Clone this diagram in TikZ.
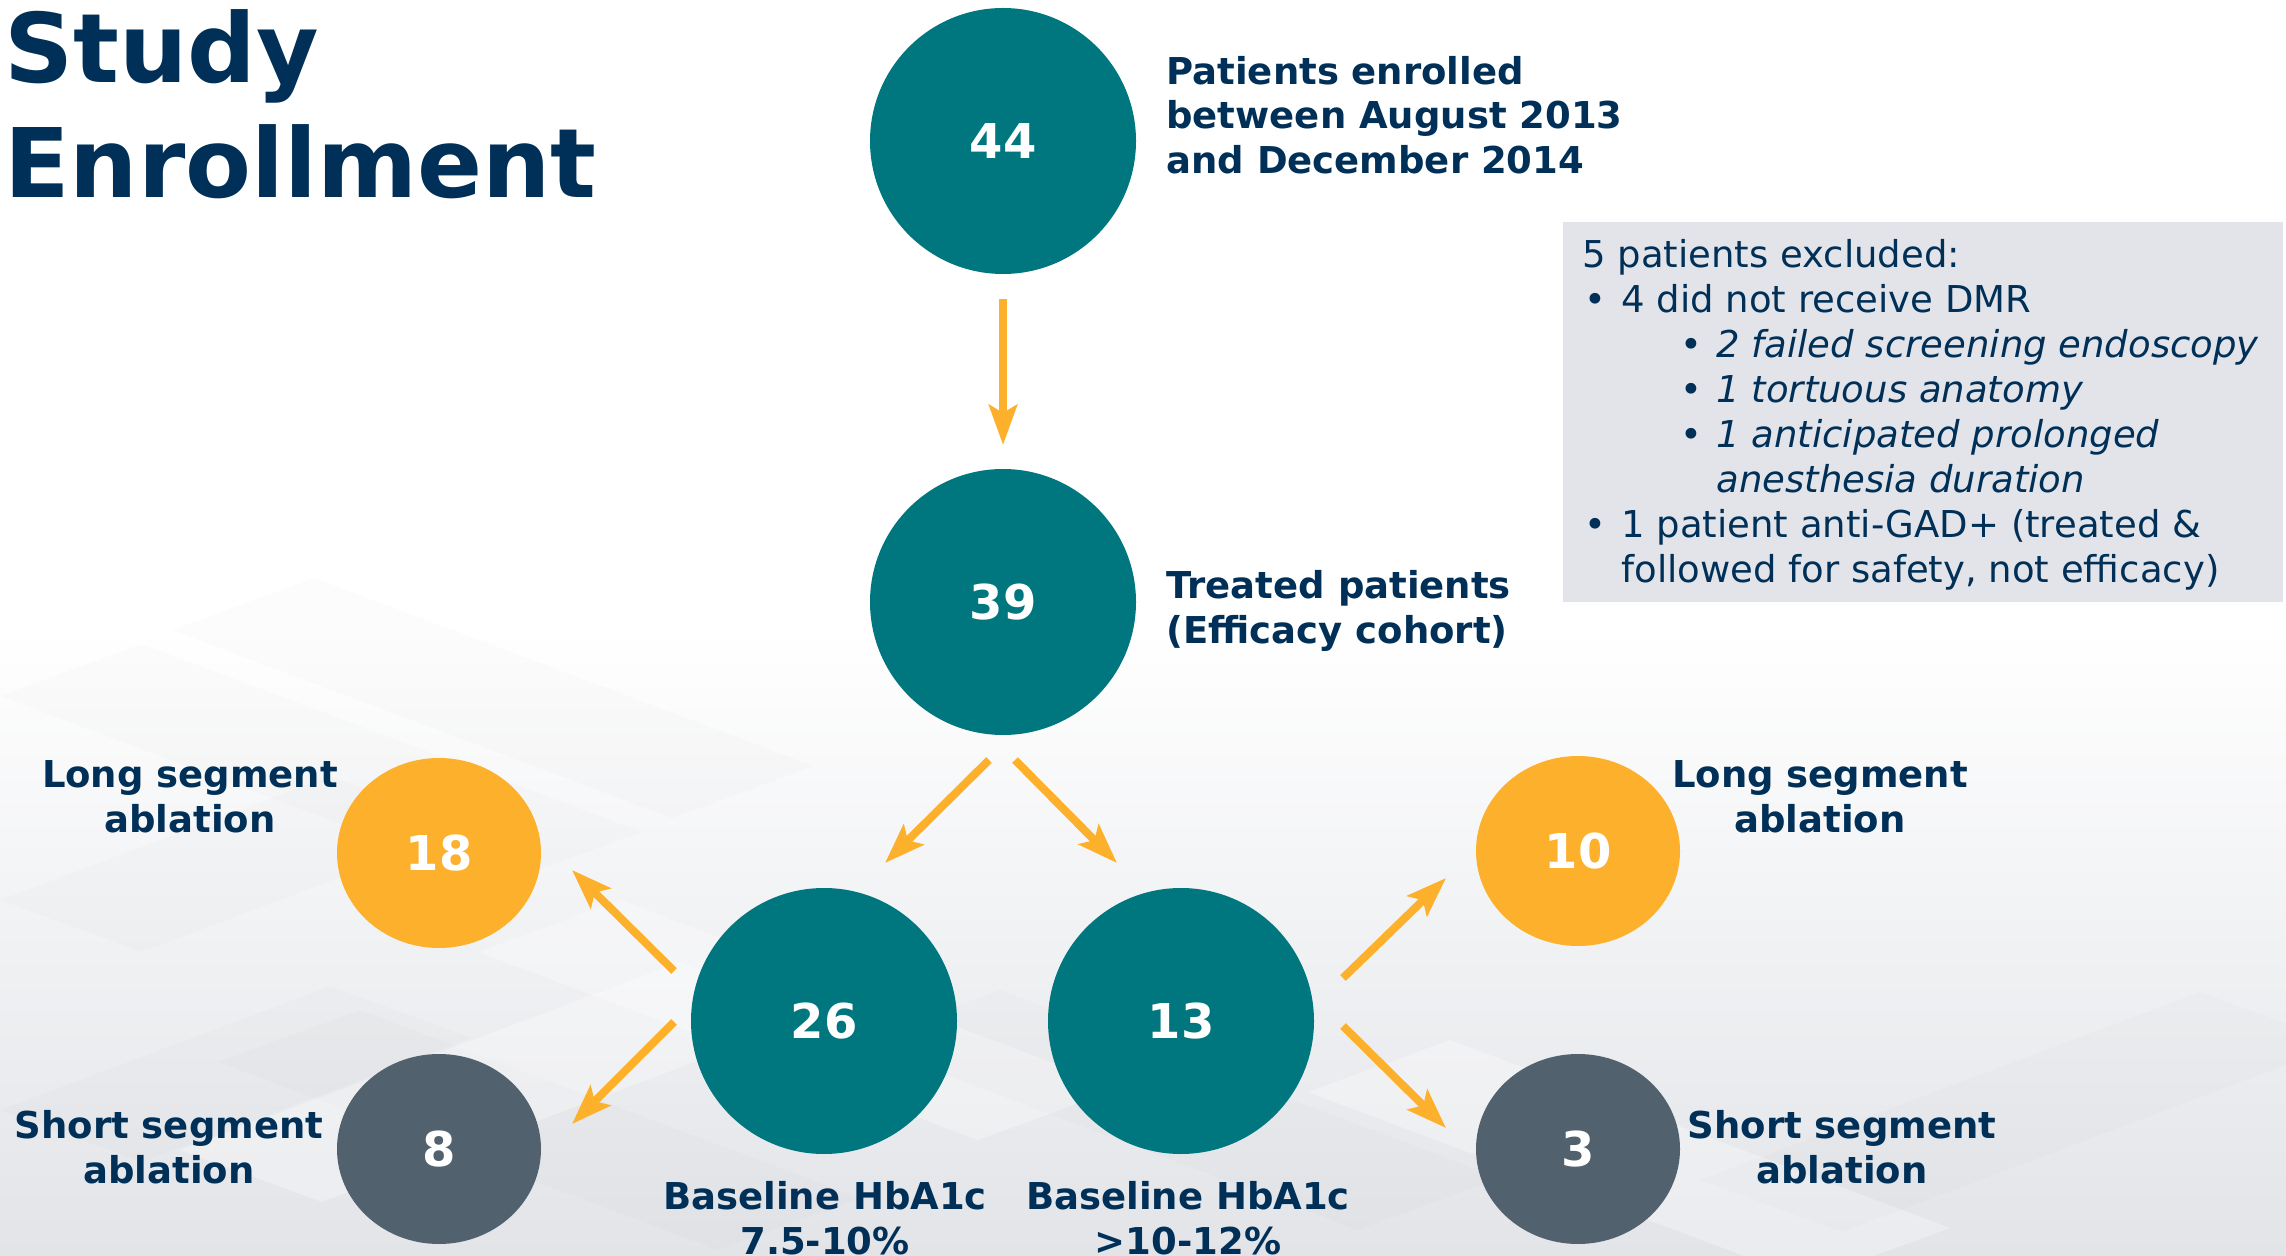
\documentclass[tikz,border=0pt]{standalone}
\usepackage{fontspec}
\setmainfont{DejaVu Sans}
\usetikzlibrary{shapes.geometric,arrows.meta,calc}

\definecolor{navy}{RGB}{0,48,87}
\definecolor{cteal}{RGB}{0,119,127}
\definecolor{amber}{RGB}{253,176,43}
\definecolor{slate}{RGB}{82,97,110}
\definecolor{boxgray}{RGB}{227,228,233}
\definecolor{bgbottom}{RGB}{226,228,232}

\tikzset{
  bigdot/.style={circle, fill=cteal, minimum size=133pt, inner sep=0pt,
    text=white, font=\fontsize{24}{24}\selectfont\bfseries},
  armdot/.style={ellipse, minimum width=102pt, minimum height=95pt, inner sep=0pt,
    text=white, font=\fontsize{24}{24}\selectfont\bfseries},
  lbl/.style={text=navy, align=center, inner sep=0pt,
    font=\fontsize{18.5}{22.25}\selectfont\bfseries},
  flow/.style={draw=amber, line width=4pt,
    -{Stealth[length=20pt,width=14pt,inset=4pt]}},
  facet/.style={fill=black, opacity=0.012},
  glint/.style={fill=white, opacity=0.3}
}

\begin{document}
\begin{tikzpicture}[x=0.5pt,y=-0.5pt]
  \useasboundingbox (0,0) rectangle (2286,1256);

  % background: white fading to light grey, with faint facets
  \shade[top color=white, bottom color=bgbottom, middle color=white]
    (0,0) rectangle (2286,1256);
  \fill[facet] (314,578) -- ++(500,188) -- ++(-142,52) -- ++(-500,-188) -- cycle;
  \fill[facet] (142,644) -- ++(500,188) -- ++(-142,52) -- ++(-500,-188) -- cycle;
  \fill[facet] (0,900) -- ++(330,-124) -- ++(142,52) -- ++(-330,124) -- cycle;
  \fill[glint] (620,900) -- ++(500,188) -- ++(-142,52) -- ++(-500,-188) -- cycle;
  \fill[facet] (360,1010) -- ++(500,188) -- ++(-142,52) -- ++(-500,-188) -- cycle;
  \fill[facet] (0,1110) -- ++(330,-124) -- ++(142,52) -- ++(-330,124) -- cycle;
  \fill[glint] (180,1150) -- ++(500,-188) -- ++(142,52) -- ++(-500,188) -- cycle;
  \fill[facet] (1000,990) -- ++(500,188) -- ++(-142,52) -- ++(-500,-188) -- cycle;
  \fill[glint] (1450,1040) -- ++(500,188) -- ++(-142,52) -- ++(-500,-188) -- cycle;
  \fill[facet] (1700,1180) -- ++(500,-188) -- ++(142,52) -- ++(-500,188) -- cycle;

  % title
  \node[text=navy, anchor=north west, align=left, inner sep=0pt,
        font=\fontsize{48}{57.5}\selectfont\bfseries] (title) at (4,9) {Study\\Enrollment};

  % main chain
  \node[bigdot] (n44) at (1003,141) {44};
  \node[bigdot] (n39) at (1003,602) {39};
  \node[bigdot] (n26) at (824,1021) {26};
  \node[bigdot] (n13) at (1181,1021) {13};

  % ablation arms
  \node[armdot, fill=amber] (n18) at (439,853) {18};
  \node[armdot, fill=slate] (n8) at (439,1149) {8};
  \node[armdot, fill=amber] (n10) at (1578,851) {10};
  \node[armdot, fill=slate] (n3) at (1578,1149) {3};

  % labels
  \node[lbl, anchor=west, align=left] (enrolled) at (1166,115)
    {Patients enrolled\\between August 2013\\and December 2014};
  \node[lbl, anchor=west, align=left] (treated) at (1166,611)
    {Treated patients\\(Efficacy cohort)};
  \node[lbl] (longL) at (190,797) {Long segment\\ablation};
  \node[lbl] (shortL) at (169,1147) {Short segment\\ablation};
  \node[lbl] (longR) at (1820,797) {Long segment\\ablation};
  \node[lbl] (shortR) at (1842,1147) {Short segment\\ablation};
  \node[lbl] (lowA) at (825,1218) {Baseline HbA1c\\7.5-10\%};
  \node[lbl] (highA) at (1188,1218) {Baseline HbA1c\\>10-12\%};

  % exclusions
  \fill[boxgray] (1563,222) rectangle (2283,602);
  \node[text=navy, anchor=north west, align=left, inner sep=0pt,
        font=\fontsize{18.5}{22.5}\selectfont] (excluded) at (1582,239)
    {5 patients excluded:\\
     \hspace*{1pt}\makebox[18.5pt][l]{\textbullet}4 did not receive DMR\\
     \hspace*{49pt}\makebox[18pt][l]{\textbullet}\textit{2 failed screening endoscopy}\\
     \hspace*{49pt}\makebox[18pt][l]{\textbullet}\textit{1 tortuous anatomy}\\
     \hspace*{49pt}\makebox[18pt][l]{\textbullet}\textit{1 anticipated prolonged}\\
     \hspace*{67pt}\textit{anesthesia duration}\\
     \hspace*{1pt}\makebox[18.5pt][l]{\textbullet}1 patient anti-GAD+ (treated \&\\
     \hspace*{19.5pt}followed for safety, not efficacy)};

  % arrows
  \draw[flow] ($(n44)+(0,158)$) -- ($(n39)+(0,-157)$);
  \draw[flow] ($(n39)+(-14,158)$) -- ($(n26)+(61,-158)$);
  \draw[flow] ($(n39)+(12,158)$) -- ($(n13)+(-64,-158)$);
  \draw[flow] ($(n26)+(-150,-50)$) -- ($(n18)+(133,17)$);
  \draw[flow] ($(n26)+(-150,1)$) -- ($(n8)+(133,-25)$);
  \draw[flow] ($(n13)+(162,-43)$) -- ($(n10)+(-132,27)$);
  \draw[flow] ($(n13)+(162,5)$) -- ($(n3)+(-132,-21)$);
\end{tikzpicture}
\end{document}
